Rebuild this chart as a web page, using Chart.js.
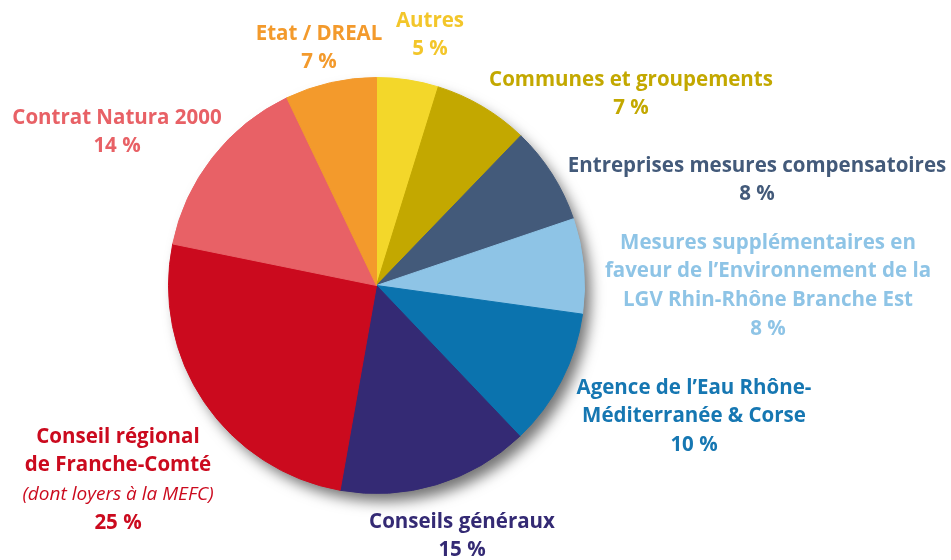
<!DOCTYPE html>
<html>
<head>
<meta charset="utf-8">
<script src="https://cdn.jsdelivr.net/npm/chart.js@4.4.1/dist/chart.umd.min.js"></script>
<style>
  html, body { margin: 0; padding: 0; background: #ffffff; }
  #wrap { width: 951px; height: 560px; position: relative; }
</style>
</head>
<body>
<div id="wrap"><canvas id="c" width="951" height="560"></canvas></div>
<script>
// ---- Data ----
const categories = [
  "Autres",
  "Communes et groupements",
  "Entreprises mesures compensatoires",
  "Mesures supplémentaires en faveur de l’Environnement de la LGV Rhin-Rhône Branche Est",
  "Agence de l’Eau Rhône-Méditerranée & Corse",
  "Conseils généraux",
  "Conseil régional de Franche-Comté (dont loyers à la MEFC)",
  "Contrat Natura 2000",
  "Etat / DREAL"
];
// shares (%)
const shares = [4.8, 7.4, 7.6, 7.4, 10.7, 14.9, 25.4, 14.7, 7.1];
// printed percentage labels
const percentLabels = ["5 %", "7 %", "8 %", "8 %", "10 %", "15 %", "25 %", "14 %", "7 %"];
const sliceColors = ["#F3D72A", "#C3A800", "#435A7A", "#8EC4E6", "#0B73AE", "#342A74", "#CB0A1E", "#E86166", "#F39A2C"];
const textColors  = ["#F3C62A", "#C3A800", "#435A7A", "#8EC4E6", "#1677B2", "#342A74", "#CB0A1E", "#E86166", "#F39A2C"];

// ---- Label layout (text lines, centre x, first-line y) ----
const labelLayout = [
  { lines: ["Autres"], x: 430, y: 21 },
  { lines: ["Communes et groupements"], x: 631, y: 80 },
  { lines: ["Entreprises mesures compensatoires"], x: 757, y: 166 },
  { lines: ["Mesures supplémentaires en", "faveur de l’Environnement de la", "LGV Rhin-Rhône Branche Est"], x: 768, y: 243 },
  { lines: ["Agence de l’Eau Rhône-", "Méditerranée & Corse"], x: 694, y: 388 },
  { lines: ["Conseils généraux"], x: 462, y: 522 },
  { lines: ["Conseil régional", "de Franche-Comté", {t: "(dont loyers à la MEFC)", italic: true}], x: 118, y: 437 },
  { lines: ["Contrat Natura 2000"], x: 117, y: 118 },
  { lines: ["Etat / DREAL"], x: 319, y: 34 }
];
const lineH = 28.6;
const FONT = "'Open Sans', Lato, sans-serif";
const BOLD = "bold 20.5px " + FONT;
const ITAL = "italic 400 19px " + FONT;

const shadowPlugin = {
  id: 'pieShadow',
  beforeDatasetsDraw(chart) {
    const arc = chart.getDatasetMeta(0).data[0];
    if (!arc) return;
    const ctx = chart.ctx;
    ctx.save();
    ctx.shadowColor = 'rgba(0,0,0,0.55)';
    ctx.shadowBlur = 14;
    ctx.shadowOffsetX = 7;
    ctx.shadowOffsetY = 9;
    ctx.fillStyle = '#888';
    ctx.beginPath();
    ctx.arc(arc.x, arc.y, arc.outerRadius - 1, 0, Math.PI * 2);
    ctx.fill();
    ctx.restore();
  }
};

const labelPlugin = {
  id: 'sideLabels',
  afterDraw(chart) {
    const ctx = chart.ctx;
    ctx.save();
    ctx.textAlign = 'center';
    ctx.textBaseline = 'middle';
    labelLayout.forEach((L, i) => {
      ctx.fillStyle = textColors[i];
      let y = L.y;
      L.lines.forEach(line => {
        if (typeof line === 'object') {
          ctx.font = ITAL;
          ctx.fillText(line.t, L.x, y);
        } else {
          ctx.font = BOLD;
          ctx.fillText(line, L.x, y);
        }
        y += lineH;
      });
      ctx.font = BOLD;
      ctx.fillText(percentLabels[i], L.x, y);
    });
    ctx.restore();
  }
};

new Chart(document.getElementById('c'), {
  type: 'pie',
  data: {
    labels: categories,
    datasets: [{
      data: shares,
      backgroundColor: sliceColors,
      borderColor: sliceColors,
      borderWidth: 1
    }]
  },
  options: {
    responsive: false,
    animation: false,
    layout: { padding: { left: 168, right: 366, top: 77, bottom: 66 } },
    plugins: { legend: { display: false }, tooltip: { enabled: false } }
  },
  plugins: [shadowPlugin, labelPlugin]
});
</script>
</body>
</html>
